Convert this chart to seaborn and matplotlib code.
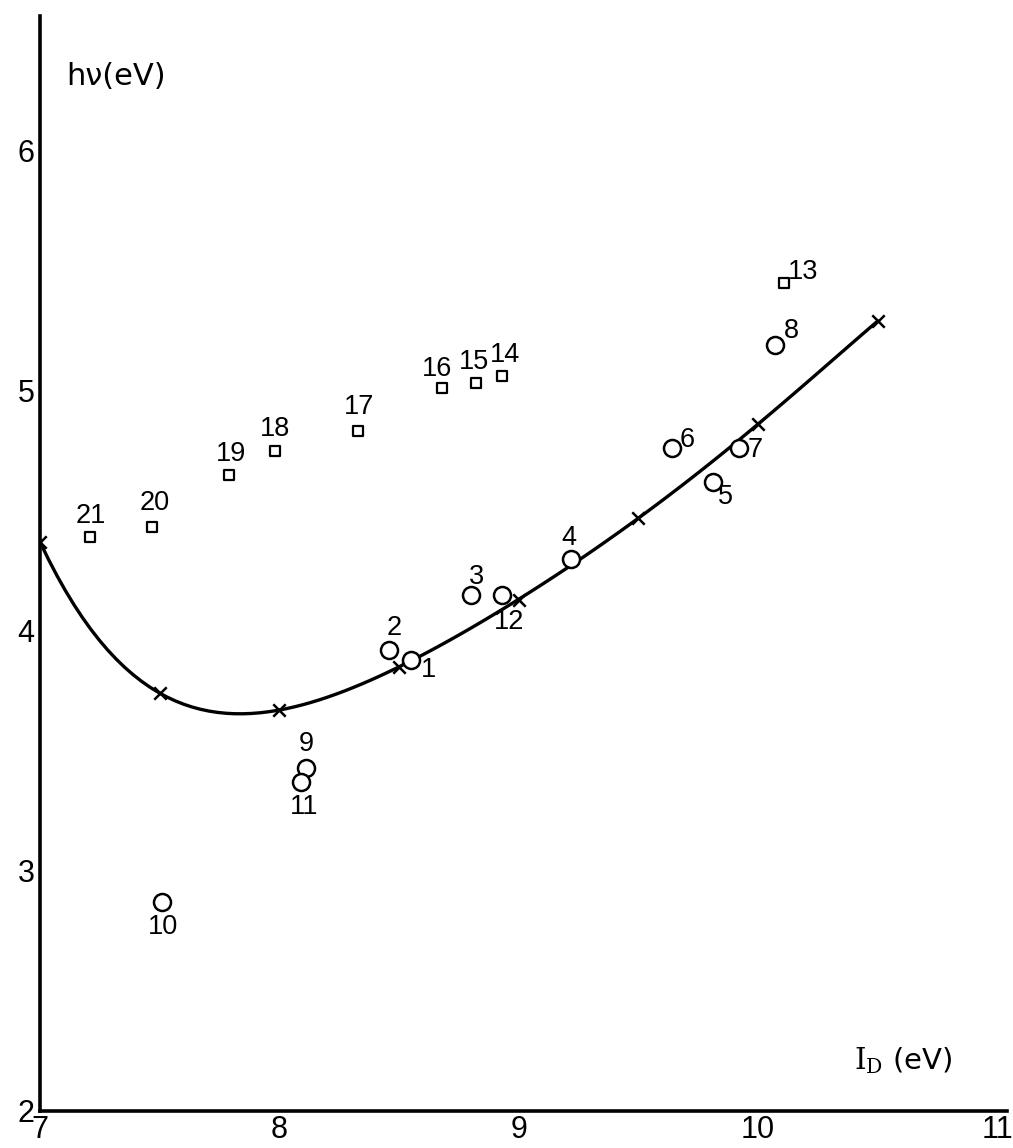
import numpy as np
import pandas as pd
import matplotlib
matplotlib.use("Agg")
import matplotlib.pyplot as plt
import seaborn as sns

# ---------------- data ----------------
curve_x = [7.0, 7.5, 8.0, 8.5, 9.0, 9.5, 10.0, 10.5]
curve_y = [4.37, 3.74, 3.67, 3.85, 4.13, 4.47, 4.86, 5.29]

circle_ids = ["1", "2", "3", "4", "5", "6", "7", "8", "9", "10", "11", "12"]
circle_x = [8.55, 8.46, 8.80, 9.22, 9.81, 9.64, 9.92, 10.07, 8.11, 7.51, 8.09, 8.93]
circle_y = [3.88, 3.92, 4.15, 4.30, 4.62, 4.76, 4.76, 5.19, 3.43, 2.87, 3.37, 4.15]

square_ids = ["13", "14", "15", "16", "17", "18", "19", "20", "21"]
square_x = [10.11, 8.93, 8.82, 8.68, 8.33, 7.98, 7.79, 7.47, 7.21]
square_y = [5.45, 5.06, 5.03, 5.01, 4.83, 4.75, 4.65, 4.43, 4.39]

x_ticks = [7, 8, 9, 10, 11]
y_ticks = [2, 3, 4, 5, 6]

# label offsets in pixels (layout)
label_offsets = {
    "1": (17, -10), "2": (5, 22), "3": (6, 18), "4": (-2, 21), "5": (13, -15),
    "6": (15, 8), "7": (16, -2), "8": (17, 14), "9": (1, 24), "10": (1, -25),
    "11": (3, -25), "12": (7, -27), "13": (19, 11), "14": (3, 21), "15": (-2, 21),
    "16": (-5, 19), "17": (1, 24), "18": (0, 22), "19": (2, 21), "20": (2, 24),
    "21": (1, 21),
}

# ---------------- style ----------------
sns.set_theme(style="white")
plt.rcParams["font.family"] = ["Liberation Sans", "DejaVu Sans"]
plt.rcParams["mathtext.fontset"] = "dejavuserif"

fig = plt.figure(figsize=(10.13, 11.48), dpi=100)
ax = fig.add_axes([40 / 1013, 37 / 1148, 967 / 1013, 1095 / 1148])

circles = pd.DataFrame({"id": circle_ids, "x": circle_x, "y": circle_y})
squares = pd.DataFrame({"id": square_ids, "x": square_x, "y": square_y})
curve = pd.DataFrame({"x": curve_x, "y": curve_y})

# smooth curve through the crosses
sns.regplot(data=curve, x="x", y="y", order=5, ci=None, scatter=False,
            truncate=True, line_kws=dict(color="black", lw=2.4), ax=ax)
sns.scatterplot(data=curve, x="x", y="y", marker="x", s=80, color="black",
                linewidth=1.8, ax=ax, zorder=5)

sns.scatterplot(data=circles, x="x", y="y", marker="o", s=150,
                facecolor="white", edgecolor="black", linewidth=1.8, ax=ax, zorder=6)
sns.scatterplot(data=squares, x="x", y="y", marker="s", s=60,
                facecolor="white", edgecolor="black", linewidth=1.6, ax=ax, zorder=6)

for df in (circles, squares):
    for _, r in df.iterrows():
        dx, dy = label_offsets[r["id"]]
        ax.annotate(r["id"], (r["x"], r["y"]), xytext=(dx, dy),
                    textcoords="offset pixels", ha="center", va="center",
                    fontsize=19.5, color="black")

ax.set_xlim(7, 11.04)
ax.set_ylim(2, 6.56)
ax.set_xticks(x_ticks)
ax.set_yticks(y_ticks)
ax.set_xticklabels([str(t) for t in x_ticks])
ax.set_yticklabels([str(t) for t in y_ticks])
ax.tick_params(axis="both", direction="in", length=15, width=2.2,
               labelsize=22, color="black", labelcolor="black")
ax.tick_params(axis="x", pad=3)
ax.tick_params(axis="y", pad=4)
ax.set_xlabel("")
ax.set_ylabel("")

for side in ("top", "right"):
    ax.spines[side].set_visible(False)
for side in ("left", "bottom"):
    ax.spines[side].set_color("black")
    ax.spines[side].set_linewidth(2.6)

ax.text(7.11, 6.31, "hν(eV)", fontsize=22, family=["DejaVu Sans"],
        ha="left", va="center", color="black")
ax.text(10.4, 2.21, r"$\mathrm{I}_{\mathrm{D}}$ (eV)", fontsize=21,
        family=["DejaVu Sans"], ha="left", va="center", color="black")

fig.savefig("out.png", dpi=100, facecolor="white")
